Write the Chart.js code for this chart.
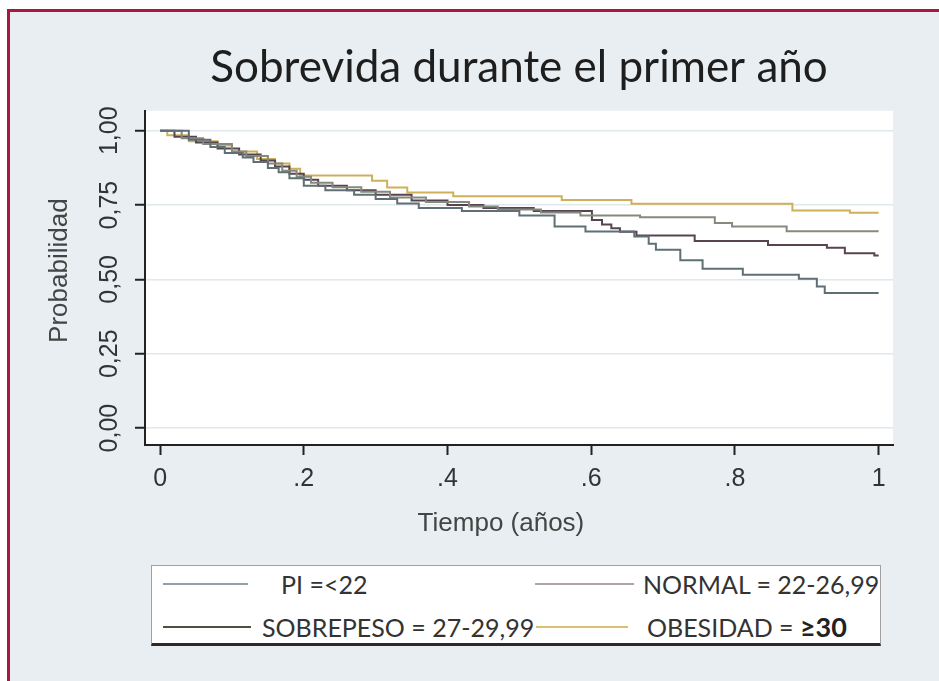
<!DOCTYPE html>
<html>
<head>
<meta charset="utf-8">
<title>Sobrevida durante el primer año</title>
<script src="https://cdn.jsdelivr.net/npm/chart.js@4.4.0/dist/chart.umd.min.js"></script>
<style>
  body { margin:0; width:939px; height:681px; background:#fff; overflow:hidden; position:relative; }
  .frame { position:absolute; left:7px; top:9px; right:0; bottom:0; background:#e8eef1; border-left:3px solid #a8173f; border-top:3px solid #a8173f; }
  #myChart { position:absolute; left:0; top:0; }
  .legend-box { position:absolute; left:151px; top:565px; width:728px; height:77px; background:#fff; border:1px solid #a0a0a0; border-bottom:3px solid #2a2a2a; }
  .lg-line { position:absolute; height:2px; }
  .lg-line-0 { left:163px; top:583px; width:85px; }
  .lg-line-1 { left:535px; top:583px; width:99px; }
  .lg-line-2 { left:163px; top:626px; width:88px; }
  .lg-line-3 { left:536px; top:626px; width:92px; }
  .lg-text { position:absolute; font-family:Lato, "Open Sans", sans-serif; font-size:25px; line-height:30px; color:#333; white-space:nowrap; }
  .lg-text-0 { left:281px; top:569px; }
  .lg-text-1 { left:643px; top:569px; }
  .lg-text-2 { left:262px; top:612px; }
  .lg-text-3 { left:647px; top:612px; }
  .lg-text b { font-size:27px; color:#222; }
</style>
</head>
<body>
<div class="frame"></div>
<canvas id="myChart" width="939" height="681"></canvas>
<div class="legend-box"></div>
<div id="legend"></div>

<script>
// data (Kaplan-Meier steps)

var seriesNames = ['PI =<22', 'NORMAL = 22-26,99', 'SOBREPESO = 27-29,99', 'OBESIDAD = ≥30'];

var piT = [0, 0.04, 0.07, 0.09, 0.115, 0.13, 0.15, 0.165, 0.18, 0.2, 0.23, 0.27, 0.3, 0.33, 0.36, 0.42, 0.5, 0.549, 0.592, 0.66, 0.68, 0.69, 0.724, 0.755, 0.811, 0.889, 0.914, 0.925, 1.0];
var piS = [1.0, 0.97, 0.945, 0.925, 0.91, 0.895, 0.875, 0.86, 0.84, 0.815, 0.80, 0.785, 0.77, 0.755, 0.74, 0.73, 0.715, 0.678, 0.661, 0.644, 0.62, 0.60, 0.564, 0.536, 0.516, 0.502, 0.476, 0.454, 0.454];

var normalT = [0, 0.03, 0.06, 0.1, 0.12, 0.15, 0.17, 0.19, 0.21, 0.24, 0.28, 0.32, 0.37, 0.43, 0.47, 0.53, 0.585, 0.668, 0.772, 0.796, 0.872, 1.0];
var normalS = [1.0, 0.975, 0.955, 0.93, 0.915, 0.89, 0.865, 0.845, 0.825, 0.81, 0.795, 0.775, 0.76, 0.745, 0.735, 0.725, 0.715, 0.709, 0.69, 0.678, 0.662, 0.662];

var sobreT = [0, 0.02, 0.05, 0.08, 0.11, 0.14, 0.16, 0.18, 0.2, 0.22, 0.26, 0.3, 0.35, 0.4, 0.45, 0.52, 0.601, 0.615, 0.628, 0.64, 0.663, 0.744, 0.846, 0.928, 0.953, 0.994, 1.0];
var sobreS = [1.0, 0.98, 0.96, 0.94, 0.92, 0.90, 0.88, 0.855, 0.835, 0.815, 0.80, 0.785, 0.765, 0.75, 0.74, 0.73, 0.70, 0.685, 0.672, 0.66, 0.648, 0.629, 0.616, 0.606, 0.588, 0.58, 0.58];

var obesT = [0, 0.01, 0.04, 0.08, 0.1, 0.135, 0.16, 0.18, 0.195, 0.295, 0.316, 0.344, 0.408, 0.559, 0.656, 0.88, 0.96, 1.0];
var obesS = [1.0, 0.985, 0.965, 0.95, 0.93, 0.905, 0.89, 0.872, 0.849, 0.832, 0.809, 0.792, 0.78, 0.767, 0.754, 0.732, 0.724, 0.724];

var xTicks = [0, 0.2, 0.4, 0.6, 0.8, 1];
var xTickLabels = ['0', '.2', '.4', '.6', '.8', '1'];
var yTicks = [0, 0.25, 0.5, 0.75, 1];
var yTickLabels = ['0,00', '0,25', '0,50', '0,75', '1,00'];

var lineColors = ['#5f7075', '#858a7e', '#574450', '#cfb05a'];
var legendColors = ['#93a2a8', '#b3a6a6', '#4e4e44', '#d9c072'];

// data --end


// datasets

var seriesTimes = [piT, normalT, sobreT, obesT];
var seriesSurv = [piS, normalS, sobreS, obesS];

var datasets = seriesNames.map(function(name, i){
    return {
        label: name,
        data: seriesTimes[i].map(function(t, j){ return {x: t, y: seriesSurv[i][j]}; }),
        borderColor: lineColors[i],
        borderWidth: 2,
        pointRadius: 0,
        stepped: 'before',
        fill: false
    };
});

// datasets --end


// white plot region behind the curves

var plotBackground = {
    id: 'plotBackground',
    beforeDraw: function(chart){
        var a = chart.chartArea, ctx = chart.ctx;
        ctx.save();
        ctx.fillStyle = '#ffffff';
        ctx.fillRect(a.left, a.top, a.right - a.left, a.bottom - a.top);
        ctx.restore();
    }
};

var tickFont = {family: '"Liberation Sans", Arial, sans-serif', size: 25};
var axisTitleFont = {family: '"Liberation Sans", Arial, sans-serif', size: 26};

var ctx = document.getElementById('myChart').getContext('2d');
var chart = new Chart(ctx, {
    type: 'line',
    data: { datasets: datasets },
    plugins: [plotBackground],
    options: {
        responsive: false,
        animation: false,
        layout: { padding: {left: 0, right: 46, top: 0, bottom: 130} },
        plugins: {
            legend: { display: false },
            tooltip: { enabled: false },
            title: {
                display: true,
                text: 'Sobrevida durante el primer año',
                fullSize: false,
                color: '#1e1e1e',
                font: {family: 'Lato, "Open Sans", sans-serif', size: 44, weight: 'normal'},
                padding: {top: 41, bottom: 17}
            }
        },
        scales: {
            x: {
                type: 'linear',
                min: -0.021,
                max: 1.02,
                afterBuildTicks: function(scale){
                    scale.ticks = xTicks.map(function(v){ return {value: v}; });
                },
                afterFit: function(scale){ scale.height = 106; },
                ticks: {
                    autoSkip: false,
                    maxRotation: 0,
                    padding: 9,
                    color: '#333',
                    font: tickFont,
                    callback: function(value){ return xTickLabels[xTicks.indexOf(value)]; }
                },
                grid: { drawOnChartArea: false, drawTicks: true, tickLength: 10, tickColor: '#222', tickWidth: 2 },
                border: { color: '#222', width: 2 },
                // trailing spaces pull the title a bit left, as in the picture
                title: { display: true, text: 'Tiempo (años)     ', color: '#444', font: axisTitleFont, padding: {top: 0, bottom: 12} }
            },
            y: {
                type: 'linear',
                min: -0.057,
                max: 1.067,
                afterBuildTicks: function(scale){
                    scale.ticks = yTicks.map(function(v){ return {value: v}; });
                },
                afterFit: function(scale){ scale.width = 145; },
                ticks: {
                    minRotation: 90,
                    maxRotation: 90,
                    crossAlign: 'center',
                    padding: 1,
                    color: '#333',
                    font: tickFont,
                    callback: function(value){ return yTickLabels[yTicks.indexOf(value)]; }
                },
                grid: { color: '#e1e8eb', lineWidth: 1.5, drawTicks: true, tickLength: 10, tickColor: '#222', tickWidth: 2 },
                border: { color: '#222', width: 2 },
                title: { display: true, text: '  Probabilidad', color: '#444', font: axisTitleFont, padding: {top: 44, bottom: 0} }
            }
        }
    }
});


// legend in two columns, like the picture

var legend = document.getElementById('legend');
seriesNames.forEach(function(name, i){
    var line = document.createElement('div');
    line.className = 'lg-line lg-line-' + i;
    line.style.background = legendColors[i];
    legend.appendChild(line);

    var text = document.createElement('div');
    text.className = 'lg-text lg-text-' + i;
    var parts = name.split('≥');
    text.appendChild(document.createTextNode(parts[0]));
    if (parts.length > 1) {
        var bold = document.createElement('b');
        bold.textContent = '≥' + parts[1];
        text.appendChild(bold);
    }
    legend.appendChild(text);
});

// legend --end
</script>
</body>
</html>
